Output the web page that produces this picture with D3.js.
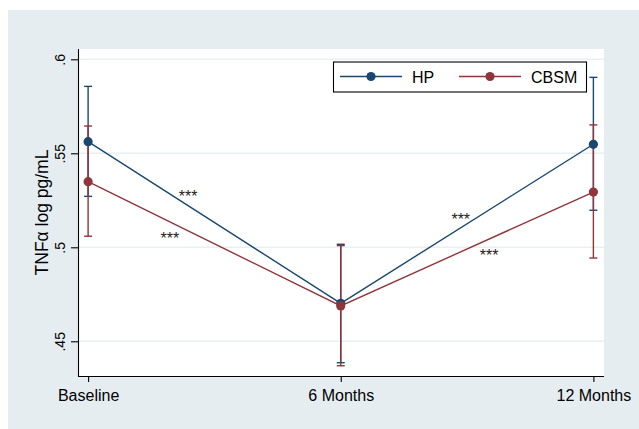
<!DOCTYPE html>
<html>
<head>
<meta charset="utf-8">
<script src="https://cdn.jsdelivr.net/npm/d3@7"></script>
<style>
  body { margin: 0; background: #fff; }
  svg { display: block; font-family: "Liberation Sans", Arial, sans-serif; }
</style>
</head>
<body>
<svg id="svg" width="639" height="429"></svg>
<script>
// categories on the x axis
const categories = ["Baseline", "6 Months", "12 Months"];

// group means and 95% CI bounds (log pg/mL)
const hpMean = [0.5562, 0.4702, 0.5548];
const hpLow = [0.5271, 0.4386, 0.5197];
const hpHigh = [0.5856, 0.5016, 0.5904];

const cbsmMean = [0.5349, 0.4688, 0.5294];
const cbsmLow = [0.5059, 0.4370, 0.4943];
const cbsmHigh = [0.5645, 0.5009, 0.5651];

// y tick values and their labels
const yTicks = [0.45, 0.5, 0.55, 0.6];
const yTickLabels = [".45", ".5", ".55", ".6"];

// significance marks: position along x (category index) and y value
const starX = [0.396, 0.324, 1.475, 1.587];
const starY = [0.5287, 0.5065, 0.5167, 0.4973];
const starText = ["***", "***", "***", "***"];

const series = [
    { name: "HP", mean: hpMean, low: hpLow, high: hpHigh, color: "#1a476f" },
    { name: "CBSM", mean: cbsmMean, low: cbsmLow, high: cbsmHigh, color: "#90353b" }
];

let drawChart = (svgEl) => {
    let svg = d3.select(svgEl);

    // outer graph region
    svg.append("rect")
        .attr("x", 8).attr("y", 10)
        .attr("width", 631).attr("height", 419)
        .attr("fill", "#e6edf0");

    let plot = { left: 78, right: 604, top: 49, bottom: 376 };

    let x = d3.scaleLinear()
        .domain([-0.04, 2.042])
        .range([plot.left, plot.right]);

    let y = d3.scaleLinear()
        .domain([0.43154, 0.60548])
        .range([plot.bottom, plot.top]);

    // plot region
    svg.append("rect")
        .attr("x", plot.left).attr("y", plot.top)
        .attr("width", plot.right - plot.left)
        .attr("height", plot.bottom - plot.top)
        .attr("fill", "#fff");

    // grid lines
    svg.append("g")
        .selectAll("line")
        .data(yTicks)
        .join("line")
        .attr("x1", plot.left).attr("x2", plot.right)
        .attr("y1", d => y(d)).attr("y2", d => y(d))
        .attr("stroke", "#e8f0f2")
        .attr("stroke-width", 1.6);

    // y axis
    let yAxis = d3.axisLeft(y)
        .tickValues(yTicks)
        .tickSize(7)
        .tickFormat((d, i) => yTickLabels[i]);

    let gy = svg.append("g")
        .attr("transform", `translate(${plot.left},0)`)
        .call(yAxis);
    gy.select(".domain")
        .attr("d", `M0.5,${plot.top}V${plot.bottom}`)
        .attr("stroke", "#000");
    gy.selectAll(".tick line").attr("stroke", "#000");
    gy.selectAll(".tick text")
        .attr("transform", "rotate(-90)")
        .attr("x", 0)
        .attr("y", -13.5)
        .attr("dy", 0)
        .attr("text-anchor", "middle")
        .attr("font-size", 14)
        .attr("fill", "#000");

    // x axis
    let xAxis = d3.axisBottom(x)
        .tickValues([0, 1, 2])
        .tickSize(6)
        .tickFormat((d, i) => categories[i]);

    let gx = svg.append("g")
        .attr("transform", `translate(0,${plot.bottom})`)
        .call(xAxis);
    gx.select(".domain")
        .attr("d", `M${plot.left},0.5H${plot.right}`)
        .attr("stroke", "#000");
    gx.selectAll(".tick line").attr("stroke", "#000");
    gx.selectAll(".tick text")
        .attr("y", 24.5)
        .attr("dy", 0)
        .attr("font-size", 16)
        .attr("fill", "#000");

    svg.selectAll(".domain, .tick line").attr("stroke-width", 1.1);

    // y axis title
    svg.append("text")
        .attr("transform", `translate(47.5,${(plot.top + plot.bottom) / 2}) rotate(-90)`)
        .attr("text-anchor", "middle")
        .attr("font-size", 17.5)
        .attr("fill", "#000")
        .text("TNFα log pg/mL");

    // error bars
    series.forEach(s => {
        let g = svg.append("g")
            .attr("stroke", s.color)
            .attr("stroke-width", 1.4)
            .attr("fill", "none");
        categories.forEach((c, i) => {
            g.append("line")
                .attr("x1", x(i)).attr("x2", x(i))
                .attr("y1", y(s.low[i])).attr("y2", y(s.high[i]));
            g.append("line")
                .attr("x1", x(i) - 4).attr("x2", x(i) + 4)
                .attr("y1", y(s.low[i])).attr("y2", y(s.low[i]));
            g.append("line")
                .attr("x1", x(i) - 4).attr("x2", x(i) + 4)
                .attr("y1", y(s.high[i])).attr("y2", y(s.high[i]));
        });
    });

    // connected lines with markers
    const line = d3.line()
        .x((d, i) => x(i))
        .y(d => y(d));

    series.forEach(s => {
        svg.append("path")
            .datum(s.mean)
            .attr("fill", "none")
            .attr("stroke", s.color)
            .attr("stroke-width", 1.4)
            .attr("d", line);
        svg.append("g")
            .selectAll("circle")
            .data(s.mean)
            .join("circle")
            .attr("cx", (d, i) => x(i))
            .attr("cy", d => y(d))
            .attr("r", 4.6)
            .attr("fill", s.color);
    });

    // significance stars
    svg.append("g")
        .selectAll("text")
        .data(starText)
        .join("text")
        .attr("x", (d, i) => x(starX[i]))
        .attr("y", (d, i) => y(starY[i]) + 9)
        .attr("text-anchor", "middle")
        .attr("font-size", 16)
        .attr("fill", "#222")
        .text(d => d);

    // legend
    let legend = svg.append("g");
    legend.append("rect")
        .attr("x", 333.5).attr("y", 62)
        .attr("width", 253).attr("height", 30)
        .attr("fill", "#fff")
        .attr("stroke", "#000")
        .attr("stroke-width", 1.1);

    let legendX = [340, 459];
    series.forEach((s, i) => {
        let lx = legendX[i];
        legend.append("line")
            .attr("x1", lx).attr("x2", lx + 62)
            .attr("y1", 76.5).attr("y2", 76.5)
            .attr("stroke", s.color)
            .attr("stroke-width", 1.4);
        legend.append("circle")
            .attr("cx", lx + 31).attr("cy", 76.5)
            .attr("r", 4.6)
            .attr("fill", s.color);
        legend.append("text")
            .attr("x", lx + 72)
            .attr("y", 82.7)
            .attr("font-size", 16)
            .attr("fill", "#000")
            .text(s.name);
    });
};

document.addEventListener("DOMContentLoaded", () => {
    drawChart("#svg");
});
</script>
</body>
</html>
